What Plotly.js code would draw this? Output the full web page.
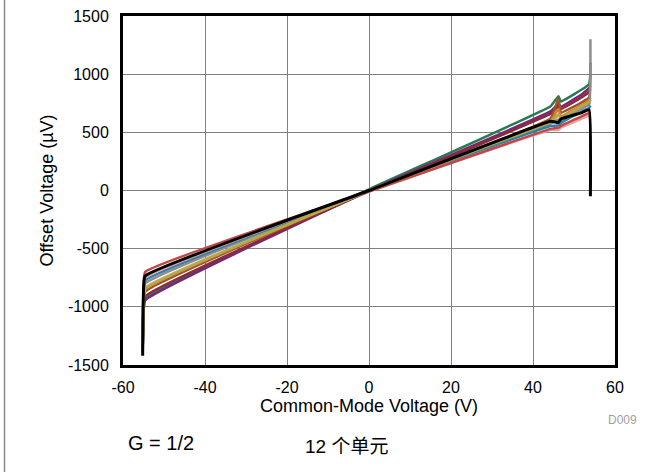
<!DOCTYPE html>
<html>
<head>
<meta charset="utf-8">
<script src="https://cdn.plot.ly/plotly-3.0.1.min.js"></script>
<style>
html,body{margin:0;padding:0;background:#fff;}
#chart{width:663px;height:472px;}
</style>
</head>
<body>
<div id="chart"></div>
<script>
// Common-mode voltage (V) sample points shared by all units
const cmVoltage = [-55.2, -55.05, -54.6, 0, 44.3, 46.2, 46.8, 52.0, 53.7, 54.0];

// Offset voltage (µV) for each of the 12 units
const unitNames = ['Unit 1','Unit 2','Unit 3','Unit 4','Unit 5','Unit 6','Unit 7','Unit 8','Unit 9','Unit 10','Unit 11','Unit 12'];
const unit1  = [-1350, -1130, -930, 10, 725, 810, 765, 870, 915, 1000];
const unit2  = [-1390, -1150, -945, 0, 680, 745, 720, 830, 880, 900];
const unit3  = [-1370, -1110, -910, -5, 660, 725, 700, 805, 850, 870];
const unit4  = [-1360, -1070, -870, 0, 620, 790, 670, 760, 800, 1100];
const unit5  = [-1340, -1050, -850, 0, 600, 700, 640, 735, 770, 800];
const unit6  = [-1350, -1035, -835, -5, 580, 645, 615, 715, 750, 780];
const unit7  = [-1330, -1000, -800, 0, 575, 610, 600, 705, 740, 1300];
const unit8  = [-1340, -975, -775, 0, 555, 560, 580, 680, 710, 730];
const unit9  = [-1320, -950, -750, -5, 520, 520, 540, 620, 645, 600];
const unit10 = [-1300, -900, -700, -10, 530, 540, 555, 640, 665, 300];
const unit11 = [-1360, -1045, -845, 0, 590, 655, 625, 725, 760, 780];
const unit12 = [-1420, -935, -735, 0, 595, 585, 615, 670, 695, -50];

const unitSeries = [unit1, unit2, unit3, unit4, unit5, unit6, unit7, unit8, unit9, unit10, unit11, unit12];
const unitColors = ['#2a7a50','#74287a','#8c2a3a','#a0522d','#c8822a','#c8b870','#8c8c8c','#2f7fa8','#e8a0a0','#c04848','#b5a84a','#000000'];

const xTicks = [-60, -40, -20, 0, 20, 40, 60];
const yTicks = [-1500, -1000, -500, 0, 500, 1000, 1500];

const traces = unitSeries.map((ys, i) => ({
  x: cmVoltage,
  y: ys,
  name: unitNames[i],
  type: 'scatter',
  mode: 'lines',
  line: {color: unitColors[i], width: i === 11 ? 3 : 2.5, shape: 'spline', smoothing: 0.3},
  hoverinfo: 'skip'
}));

const L = 123, R = 48, T = 16, B = 107;
const W = 663, H = 472;
const pw = W - L - R, ph = H - T - B;
const px = v => (v - L) / pw;
const py = v => (H - B - v) / ph;

const layout = {
  width: W, height: H,
  margin: {l: L, r: R, t: T, b: B, pad: 0},
  paper_bgcolor: '#ffffff',
  plot_bgcolor: '#ffffff',
  showlegend: false,
  font: {family: '"Liberation Sans", Arial, sans-serif', color: '#000', size: 16},
  xaxis: {
    range: [-60, 60],
    tickvals: xTicks,
    ticktext: xTicks.map(String),
    ticks: '',
    showgrid: true, gridcolor: '#808080', gridwidth: 1,
    zeroline: false,
    showline: true, linecolor: '#000', linewidth: 3, mirror: true,
    tickfont: {size: 16},
    ticklabelstandoff: 6,
    title: {text: 'Common-Mode Voltage (V)', font: {size: 18}, standoff: 2}
  },
  yaxis: {
    range: [-1500, 1500],
    tickvals: yTicks,
    ticktext: yTicks.map(String),
    ticks: '',
    showgrid: true, gridcolor: '#808080', gridwidth: 1,
    zeroline: false,
    showline: true, linecolor: '#000', linewidth: 3, mirror: true,
    tickfont: {size: 16},
    ticklabelstandoff: 8,
    title: {text: 'Offset Voltage (µV)', font: {size: 18}, standoff: 10}
  },
  shapes: [{
    type: 'line', xref: 'paper', yref: 'paper',
    x0: px(4.5), x1: px(4.5), y0: py(472), y1: py(0),
    line: {color: '#8a8a8a', width: 1.5}
  }],
  annotations: [
    {text: 'D009', xref: 'paper', yref: 'paper', x: px(622), y: py(420), showarrow: false,
     font: {size: 12, color: '#a0a0a0'}, xanchor: 'center', yanchor: 'middle'},
    {text: 'G = 1/2', xref: 'paper', yref: 'paper', x: px(160.5), y: py(443), showarrow: false,
     font: {size: 20}, xanchor: 'center', yanchor: 'middle'},
    {text: '12 个单元', xref: 'paper', yref: 'paper', x: px(346), y: py(446), showarrow: false,
     font: {size: 19, family: '"Liberation Sans", "Noto Sans CJK SC", sans-serif'}, xanchor: 'center', yanchor: 'middle'}
  ]
};

Plotly.newPlot('chart', traces, layout, {displayModeBar: false, staticPlot: true});
</script>
</body>
</html>
